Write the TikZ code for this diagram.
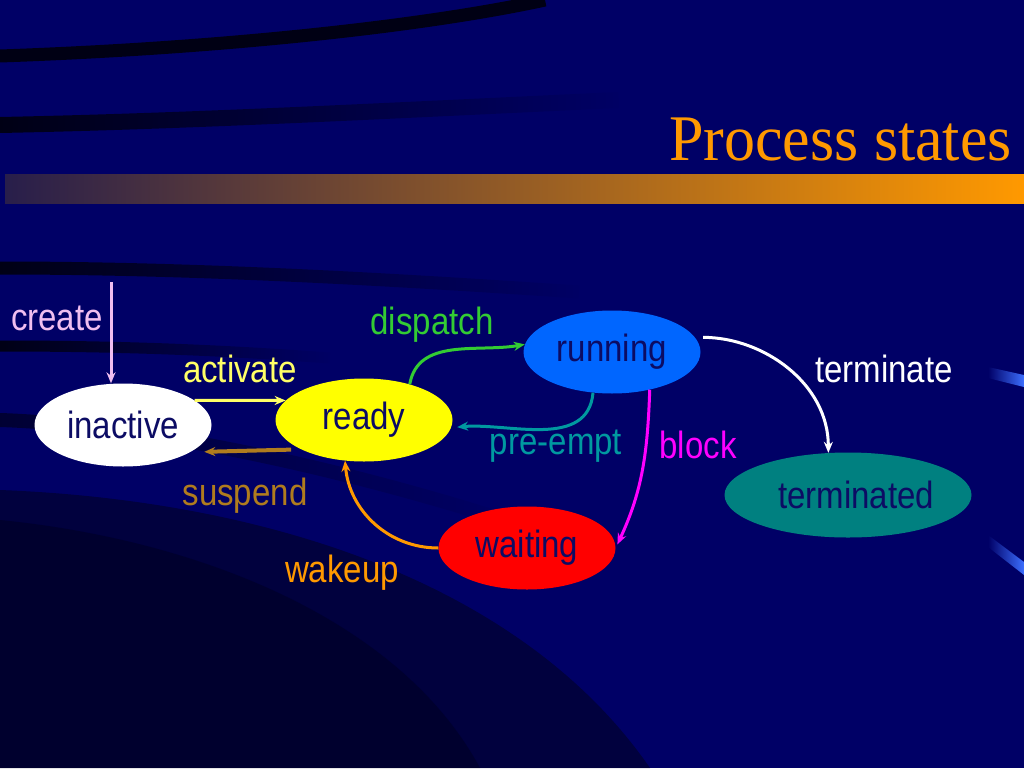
\documentclass[tikz,border=0pt]{standalone}
\usepackage{graphicx}
\usepackage{fontspec}
\setmainfont{Liberation Serif}
\setsansfont{Liberation Sans}
\usetikzlibrary{shapes.geometric,fadings,arrows.meta}

\definecolor{navy}{RGB}{0,0,102}
\definecolor{deepnavy}{RGB}{2,2,36}
\definecolor{statetext}{RGB}{12,12,100}
\definecolor{slideorange}{RGB}{255,153,0}
\definecolor{runblue}{RGB}{0,102,255}
\definecolor{termteal}{RGB}{0,128,128}
\definecolor{waitred}{RGB}{255,0,0}
\definecolor{readyyellow}{RGB}{255,255,0}
\definecolor{createpink}{RGB}{240,190,240}
\definecolor{actyellow}{RGB}{255,255,102}
\definecolor{suspbrown}{RGB}{176,124,30}
\definecolor{dispgreen}{RGB}{51,204,51}
\definecolor{preteal}{RGB}{0,153,160}
\definecolor{blockmagenta}{RGB}{255,0,255}
\definecolor{barleft}{RGB}{40,30,75}
\definecolor{stripeblue}{RGB}{60,110,255}

\newcommand{\tallsf}[1]{\scalebox{1}[1.15]{#1}}

\begin{document}
\begin{tikzpicture}[x=1pt, y=1pt, >={Stealth[length=11pt, width=9pt]},
    state/.style={ellipse, minimum width=177pt, minimum height=83pt, inner sep=0pt,
      text=statetext, font=\sffamily\fontsize{33}{33}\selectfont},
    lbl/.style={inner sep=0pt, font=\sffamily\fontsize{33}{33}\selectfont},
    trans/.style={->, line width=3pt},
    sweep/.style={black, line width=#1, opacity=.8, path fading=east}]
      % slide background
      \fill[navy] (0,0) rectangle (1024,-768);
      \useasboundingbox (0,0) rectangle (1024,-768);
      \fill[deepnavy, opacity=.6] (0,-490) .. controls (260,-500) and (520,-580) .. (650,-768) -- (0,-768) -- cycle;
      \fill[black, opacity=.25] (0,-520) .. controls (200,-540) and (400,-620) .. (480,-768) -- (0,-768) -- cycle;
      \draw[black, line width=13pt, opacity=.8] (0,-56) .. controls (230,-48) and (430,-25) .. (545,0);
      \draw[sweep=16pt] (0,-125) .. controls (200,-121) and (400,-110) .. (620,-100);
      \draw[sweep=13pt] (0,-268) .. controls (200,-268) and (400,-280) .. (580,-292);
      \draw[sweep=11pt] (0,-346) .. controls (120,-346) and (220,-350) .. (330,-358);
      \draw[sweep=14pt, opacity=.5] (0,-420) .. controls (150,-425) and (350,-470) .. (520,-525);
      \shade[left color=navy, right color=stripeblue] (988,-367) -- (1024,-375) -- (1024,-387) -- (988,-378) -- cycle;
      \shade[left color=navy, right color=stripeblue] (988,-535) -- (1024,-562) -- (1024,-575) -- (988,-547) -- cycle;
      % title
      \shade[left color=barleft, right color=slideorange] (5,-174) rectangle (1024,-203);
      \node[anchor=base east, inner sep=0pt, text=slideorange, font=\fontsize{62}{62}\selectfont] (title) at (1012,-160) {\scalebox{1}[1.05]{Process states}};
      % states
      \node[state, fill=white] (inactive) at (123,-425) {\tallsf{inactive}};
      \node[state, fill=readyyellow] (ready) at (364,-420) {\tallsf{ready}};
      \node[state, fill=runblue] (running) at (612,-352) {\tallsf{running}};
      \node[state, fill=waitred] (waiting) at (527,-548) {\tallsf{waiting}};
      \node[state, fill=termteal, minimum width=247pt, minimum height=85pt] (terminated) at (848,-495) {\hspace*{16pt}\tallsf{terminated}};
      % transitions
      \coordinate (createtop) at (111,-282);
      \draw[trans, createpink] (createtop) -- (createtop |- inactive.north);
      \draw[trans, actyellow] (inactive.19) -- (ready.166);
      \draw[trans, suspbrown, line width=4pt, shorten <=10pt, shorten >=14pt] (ready.205) -- (inactive.338);
      \draw[trans, dispgreen] (ready.38) to[out=80, in=190] (running.175);
      \draw[trans, preteal, shorten >=6pt] (running.245) to[out=265, in=5] (ready.355);
      \draw[trans, blockmagenta, shorten >=4pt] (running.315) to[out=268, in=65] (waiting.east);
      \draw[trans, white, shorten <=8pt] (running.10) to[out=0, in=90] (terminated.115);
      \draw[trans, slideorange] (waiting.west) to[out=180, in=275] (ready.245);
      % labels
      \node[lbl, text=createpink] (createlbl) at (57,-318) {\tallsf{create}};
      \node[lbl, text=actyellow] (activatelbl) at (240,-369) {\tallsf{activate}};
      \node[lbl, text=suspbrown] (suspendlbl) at (245,-496) {\tallsf{suspend}};
      \node[lbl, text=dispgreen] (dispatchlbl) at (432,-325) {\tallsf{dispatch}};
      \node[lbl, text=preteal] (preemptlbl) at (556,-446) {\tallsf{pre-empt}};
      \node[lbl, text=blockmagenta] (blocklbl) at (698,-445) {\tallsf{block}};
      \node[lbl, text=white] (terminatelbl) at (884,-369) {\tallsf{terminate}};
      \node[lbl, text=slideorange] (wakeuplbl) at (342,-573) {\tallsf{wakeup}};
\end{tikzpicture}
\end{document}
